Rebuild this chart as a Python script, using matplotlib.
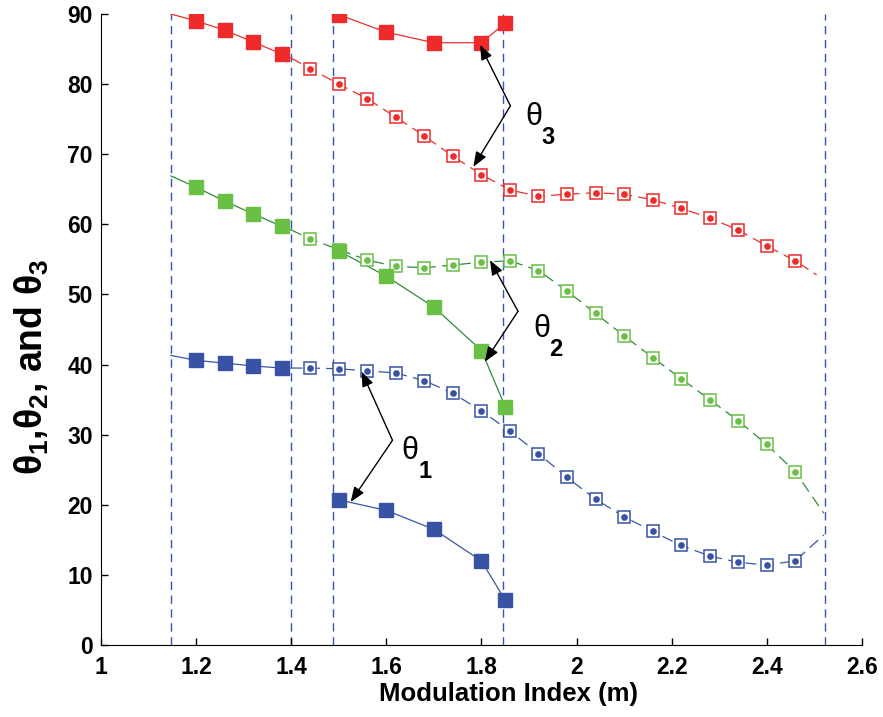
import numpy as np
import matplotlib
matplotlib.use('Agg')
import matplotlib.pyplot as plt

plt.rcParams['font.family'] = ['Liberation Sans', 'DejaVu Sans']
plt.rcParams['mathtext.fontset'] = 'custom'
plt.rcParams['mathtext.rm'] = 'Liberation Sans:bold'
plt.rcParams['mathtext.it'] = 'Liberation Sans:bold'
plt.rcParams['mathtext.bf'] = 'Liberation Sans:bold'

# branch A: solid line, filled squares (line end points have no marker)
m_a = [1.147, 1.2, 1.26, 1.32, 1.38, 1.40]
t1_a = [41.3, 40.6, 40.2, 39.8, 39.5, 39.5]
t2_a = [66.9, 65.3, 63.3, 61.5, 59.7, 59.2]
t3_a = [90.0, 89.0, 87.7, 86.0, 84.3, 83.7]

# branch B: dashed line, hollow squares with a dot
m_b = [1.40, 1.44, 1.5, 1.56, 1.62, 1.68, 1.74, 1.8, 1.86, 1.92, 1.98,
       2.04, 2.10, 2.16, 2.22, 2.28, 2.34, 2.40, 2.46]
t1_b = [39.5, 39.5, 39.4, 39.1, 38.8, 37.7, 35.9, 33.4, 30.5, 27.3, 23.9,
        20.8, 18.3, 16.2, 14.2, 12.7, 11.8, 11.4, 12.0]
t2_b = [59.2, 57.9, 56.4, 54.9, 54.0, 53.8, 54.2, 54.6, 54.8, 53.4, 50.5,
        47.3, 44.1, 41.0, 38.0, 35.0, 32.0, 28.6, 24.7]
t3_b = [83.7, 82.2, 80.0, 77.9, 75.3, 72.6, 69.7, 67.1, 64.9, 64.0, 64.3,
        64.5, 64.3, 63.5, 62.3, 60.9, 59.2, 56.9, 54.8]
# where each dashed curve ends
end_m = [2.52, 2.52, 2.505]
end_t = [15.7, 18.8, 52.8]

# branch C: solid line, filled squares
m_c = [1.49, 1.5, 1.6, 1.7, 1.8, 1.85]
t1_c = [20.8, 20.7, 19.2, 16.5, 12.0, 6.4]
t2_c = [56.5, 56.2, 52.6, 48.2, 42.0, 34.0]
t3_c = [90.0, 89.9, 87.4, 85.9, 85.9, 88.7]

vlines = [1.147, 1.40, 1.487, 1.845, 2.522]

mark_cols = ['#3853a4', '#6abf45', '#ee2a2a']
line_cols = ['#3a56a8', '#2e8b3e', '#e8322e']

fig = plt.figure(figsize=(8.83, 7.17), dpi=100)
ax = fig.add_axes([0.1144, 0.1004, 0.8616, 0.8801])

for v in vlines:
    ax.plot([v, v], [0, 90], color='#3355bb', ls=(0, (6, 4)), lw=1.0, zorder=1)

series = [(t1_a, t1_b, t1_c), (t2_a, t2_b, t2_c), (t3_a, t3_b, t3_c)]
for i, (ta, tb, tc) in enumerate(series):
    mc, lc = mark_cols[i], line_cols[i]
    # solid branch A
    ax.plot(m_a, ta, color=lc, lw=0.9, zorder=2)
    ax.plot(m_a[1:-1], ta[1:-1], 's', color=mc, ms=10.5, mec=mc, zorder=3)
    # dashed branch B
    ax.plot(m_b + [end_m[i]], tb + [end_t[i]], color=lc, lw=0.9,
            ls=(0, (9, 5)), zorder=2)
    ax.plot(m_b[1:], tb[1:], 's', mfc='white', mec=mc, ms=8.5, mew=1.1, zorder=3)
    ax.plot(m_b[1:], tb[1:], 'o', color=mc, ms=3.8, zorder=4)
    # solid branch C
    ax.plot(m_c, tc, color=lc, lw=0.9, zorder=2)
    ax.plot(m_c[1:], tc[1:], 's', color=mc, ms=10.5, mec=mc, zorder=5)

# annotations
arrow = dict(arrowstyle='-|>,head_length=0.9,head_width=0.35', color='black',
             lw=1.0, shrinkA=0, shrinkB=0)
ann = [
    ((1.861, 76.9), [(1.797, 85.6), (1.783, 68.2)], (1.910, 75.3), (1.941, 72.4), '3'),
    ((1.877, 47.6), [(1.818, 54.9), (1.807, 40.4)], (1.927, 45.1), (1.957, 42.2), '2'),
    ((1.613, 29.2), [(1.548, 39.0), (1.525, 20.4)], (1.650, 27.6), (1.681, 24.7), '1'),
]
for vert, targets, tpos, spos, sub in ann:
    for tg in targets:
        ax.annotate('', xy=tg, xytext=vert, arrowprops=arrow, zorder=6)
    ax.text(tpos[0], tpos[1], 'θ', fontsize=22, ha='center', va='center')
    ax.text(spos[0], spos[1], sub, fontsize=17, fontweight='bold',
            ha='center', va='center')

ax.set_xlim(1, 2.6)
ax.set_ylim(0, 90)
ax.set_xticks(np.arange(1, 2.61, 0.2))
ax.set_xticklabels(['1', '1.2', '1.4', '1.6', '1.8', '2', '2.2', '2.4', '2.6'])
ax.set_yticks(np.arange(0, 91, 10))
ax.tick_params(direction='in', length=5, width=1, labelsize=16.5)
ax.tick_params(axis='x', pad=8)
ax.tick_params(axis='y', pad=6)
for lab in ax.get_xticklabels() + ax.get_yticklabels():
    lab.set_fontweight('bold')
ax.spines['top'].set_visible(False)
ax.spines['right'].set_visible(False)

ax.set_xlabel('Modulation Index (m)', fontsize=18.5, fontweight='bold')
ax.xaxis.set_label_coords(0.535, -0.058)
ax.set_ylabel(r'$\theta_1$,$\theta_2$, and $\theta_3$', fontsize=27, fontweight='bold')
ax.yaxis.set_label_coords(-0.066, 0.44)

fig.savefig('out.png', dpi=100)
